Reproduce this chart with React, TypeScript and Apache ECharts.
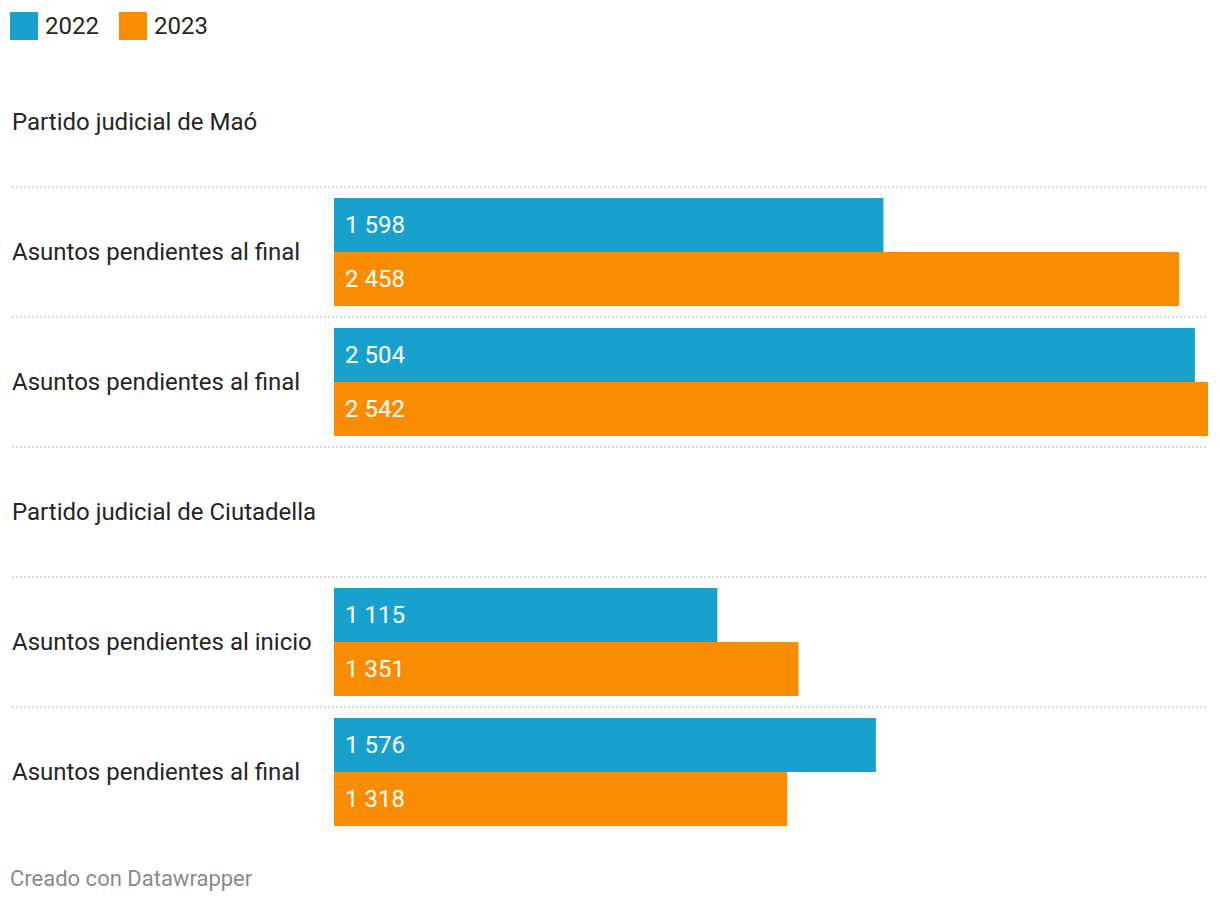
import React, { useEffect, useRef } from "react";
import * as echarts from "echarts";

const categories = [
  "Partido judicial de Maó",
  "Asuntos pendientes al final",
  "Asuntos pendientes al final ",
  "Partido judicial de Ciutadella",
  "Asuntos pendientes al inicio",
  "Asuntos pendientes al final  ",
];
const series2022 = [null, 1598, 2504, null, 1115, 1576];
const series2023 = [null, 2458, 2542, null, 1351, 1318];
const seriesNames = ["2022", "2023"];
const colors = ["#18a1cd", "#fa8c00"];

const fmt = (v: number) =>
  String(v).replace(/\B(?=(\d{3})+(?!\d))/g, " ");

export default function App() {
  const ref = useRef<HTMLDivElement>(null);
  useEffect(() => {
    const chart = echarts.init(ref.current!, null, { renderer: "svg" });
    const font = "Roboto, 'Noto Sans', sans-serif";
    const label = {
      show: true,
      position: "insideLeft",
      distance: 11,
      color: "#ffffff",
      fontSize: 24,
      fontFamily: font,
      formatter: (p: any) => fmt(p.value),
    };
    chart.setOption({
      animation: false,
      textStyle: { fontFamily: font },
      legend: {
        left: 10,
        top: 12,
        itemWidth: 28,
        itemHeight: 28,
        itemGap: 20,
        icon: "rect",
        padding: 0,
        textStyle: { fontSize: 24, color: "#252525", fontFamily: font, padding: [0, 0, 0, 2] },
        data: seriesNames,
      },
      grid: [
        { left: 334, right: 12, top: 57, height: 780 },
        { left: 12, right: 12, top: 187, height: 520 },
      ],
      xAxis: [
        { gridIndex: 0, type: "value", min: 0, max: 2542, show: false },
        { gridIndex: 1, type: "value", min: 0, max: 1, show: false },
      ],
      yAxis: [
        {
          gridIndex: 0,
          type: "category",
          inverse: true,
          data: categories,
          axisLine: { show: false },
          axisTick: { show: false },
          splitLine: { show: false },
          axisLabel: {
            align: "left",
            margin: 322,
            fontSize: 24,
            color: "#252525",
            fontFamily: font,
            formatter: (v: string) => v.trim(),
          },
        },
        {
          gridIndex: 1,
          type: "value",
          min: 0,
          max: 4,
          interval: 1,
          axisLine: { show: false },
          axisTick: { show: false },
          axisLabel: { show: false },
          splitLine: {
            show: true,
            lineStyle: { color: "#d9d9d9", width: 2, type: [2, 2] },
          },
        },
      ],
      series: [
        {
          name: seriesNames[0],
          type: "bar",
          data: series2022,
          itemStyle: { color: colors[0] },
          barGap: "0%",
          barCategoryGap: "16.9%",
          label,
        },
        {
          name: seriesNames[1],
          type: "bar",
          data: series2023,
          itemStyle: { color: colors[1] },
          barGap: "0%",
          barCategoryGap: "16.9%",
          label,
        },
      ],
      graphic: [
        {
          type: "text",
          left: 10,
          top: 867,
          style: {
            text: "Creado con Datawrapper",
            fontSize: 22,
            fill: "#8a8a8a",
            fontFamily: font,
          },
        },
      ],
    });
    return () => chart.dispose();
  }, []);
  return (
    <div
      ref={ref}
      style={{ position: "absolute", left: 0, top: 0, width: 1220, height: 904, background: "#fff" }}
    />
  );
}
